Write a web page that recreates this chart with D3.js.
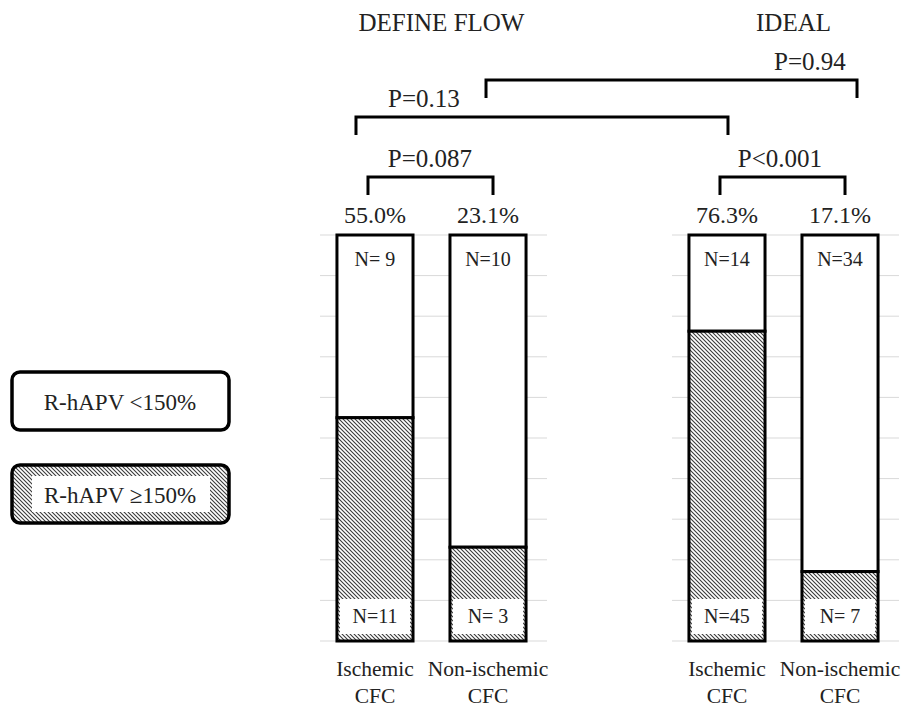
<!DOCTYPE html>
<html lang="en">
<head>
    <meta charset="UTF-8">
    <title>R-hAPV by CFC</title>
    <script src="https://d3js.org/d3.v7.min.js"></script>
    <style>
        body { margin: 0; background: #fff; }
        svg { display: block; }
        text { font-family: "Liberation Serif", "Times New Roman", serif; fill: #222; }
    </style>
</head>
<body>
    <svg id="chart"></svg>

    <script>
        // data
        var studies = ["DEFINE FLOW", "IDEAL"];
        var categories = ["Ischemic CFC", "Non-ischemic CFC"];
        var highPct = [[55.0, 23.1], [76.3, 17.1]];   // % with R-hAPV >=150%
        var nLow = [[9, 10], [14, 34]];
        var nHigh = [[11, 3], [45, 7]];
        var yTicks = [0, 10, 20, 30, 40, 50, 60, 70, 80, 90, 100];
        var legendLabels = ["R-hAPV <150%", "R-hAPV \u2265150%"];

        // comparisons: [study, category] pairs and p value text
        var comparisons = [
            { a: [0, 0], b: [0, 1], p: "P=0.087", level: 0 },
            { a: [1, 0], b: [1, 1], p: "P<0.001", level: 0 },
            { a: [0, 0], b: [1, 0], p: "P=0.13", level: 1 },
            { a: [0, 1], b: [1, 1], p: "P=0.94", level: 2 }
        ];

        var width = 902, height = 711;
        var svg = d3.select("#chart").attr("width", width).attr("height", height);

        var defs = svg.append("defs");
        var pat = defs.append("pattern")
            .attr("id", "hatch")
            .attr("patternUnits", "userSpaceOnUse")
            .attr("width", 4).attr("height", 4);
        pat.append("rect").attr("width", 4).attr("height", 4).attr("fill", "#fff");
        pat.append("path")
            .attr("d", "M-1,-1 L5,5 M-1,3 L1,5 M3,-1 L5,1")
            .attr("stroke", "#3a3a3a")
            .attr("stroke-width", 1.1);

        var y = d3.scaleLinear().domain([0, 100]).range([641, 235]);

        var panelRanges = [[320, 543], [672, 895]];
        var xs = panelRanges.map(function(r) {
            return d3.scaleBand().domain(categories).range(r)
                     .paddingInner(0.327).paddingOuter(0.15);
        });
        function cx(pair) {
            var s = xs[pair[0]];
            return s(categories[pair[1]]) + s.bandwidth() / 2;
        }

        // gridlines
        panelRanges.forEach(function(r) {
            svg.append("g").selectAll("line")
               .data(yTicks)
               .enter().append("line")
               .attr("x1", r[0]).attr("x2", r[1] + 4)
               .attr("y1", function(d) { return y(d); })
               .attr("y2", function(d) { return y(d); })
               .attr("stroke", "#d9d9d9")
               .attr("stroke-width", 1);
        });

        function nText(n) { return n < 10 ? "N= " + n : "N=" + n; }

        studies.forEach(function(study, si) {
            var x = xs[si];
            var bw = x.bandwidth();
            var g = svg.append("g");

            // study title
            g.append("text")
             .attr("x", (panelRanges[si][0] + panelRanges[si][1]) / 2 + 10)
             .attr("y", 31)
             .attr("text-anchor", "middle")
             .attr("font-size", 25)
             .text(study);

            categories.forEach(function(cat, ci) {
                var x0 = x(cat);
                var v = highPct[si][ci];

                // white (low) part
                g.append("rect")
                 .attr("x", x0).attr("y", y(100))
                 .attr("width", bw).attr("height", y(v) - y(100))
                 .attr("fill", "#fff")
                 .attr("stroke", "#000").attr("stroke-width", 3);

                // hatched (high) part
                g.append("rect")
                 .attr("x", x0).attr("y", y(v))
                 .attr("width", bw).attr("height", y(0) - y(v))
                 .attr("fill", "url(#hatch)")
                 .attr("stroke", "#000").attr("stroke-width", 3);

                // white box behind the bottom N label
                g.append("rect")
                 .attr("x", x0 + 3).attr("y", y(0) - 42)
                 .attr("width", bw - 6).attr("height", 35)
                 .attr("fill", "#fff");

                g.append("text")
                 .attr("x", x0 + bw / 2).attr("y", y(100) + 31)
                 .attr("text-anchor", "middle")
                 .attr("font-size", 20)
                 .text(nText(nLow[si][ci]));

                g.append("text")
                 .attr("x", x0 + bw / 2).attr("y", y(0) - 18)
                 .attr("text-anchor", "middle")
                 .attr("font-size", 20)
                 .text(nText(nHigh[si][ci]));

                // percentage above bar
                g.append("text")
                 .attr("x", x0 + bw / 2).attr("y", y(100) - 12)
                 .attr("text-anchor", "middle")
                 .attr("font-size", 24)
                 .text(v.toFixed(1) + "%");

                // category label, two lines
                var words = cat.split(" ");
                var t = g.append("text")
                 .attr("x", x0 + bw / 2).attr("y", 676)
                 .attr("text-anchor", "middle")
                 .attr("font-size", 21.5);
                t.append("tspan").attr("x", x0 + bw / 2).text(words[0]);
                t.append("tspan").attr("x", x0 + bw / 2).attr("dy", 27).text(words[1]);
            });
        });

        // brackets
        var levelY = [177, 117, 80];
        var offsets = [[-7, 5], [-7, 5], [-19, 1], [-2, 17]];
        var labelX = [430, 780, 424, 810];
        comparisons.forEach(function(c, i) {
            var x1 = cx(c.a) + offsets[i][0];
            var x2 = cx(c.b) + offsets[i][1];
            var yy = levelY[c.level];
            svg.append("path")
               .attr("d", "M" + x1 + "," + (yy + 18) + " V" + yy + " H" + x2 + " V" + (yy + 18))
               .attr("fill", "none")
               .attr("stroke", "#000")
               .attr("stroke-width", 3);
            svg.append("text")
               .attr("x", labelX[i])
               .attr("y", yy - 10)
               .attr("text-anchor", "middle")
               .attr("font-size", 25)
               .text(c.p);
        });

        // legend
        var legend = svg.append("g");
        var legendY = [372, 465];
        legendLabels.forEach(function(lbl, i) {
            legend.append("rect")
                  .attr("x", 12).attr("y", legendY[i])
                  .attr("width", 217).attr("height", 58)
                  .attr("rx", 8)
                  .attr("fill", i === 0 ? "#fff" : "url(#hatch)")
                  .attr("stroke", "#000").attr("stroke-width", 3.5);
            if (i === 1) {
                legend.append("rect")
                      .attr("x", 32).attr("y", legendY[i] + 11)
                      .attr("width", 178).attr("height", 36)
                      .attr("fill", "#fff");
            }
            legend.append("text")
                  .attr("x", 120).attr("y", legendY[i] + 38)
                  .attr("text-anchor", "middle")
                  .attr("font-size", 23)
                  .text(lbl);
        });
    </script>
</body>
</html>
